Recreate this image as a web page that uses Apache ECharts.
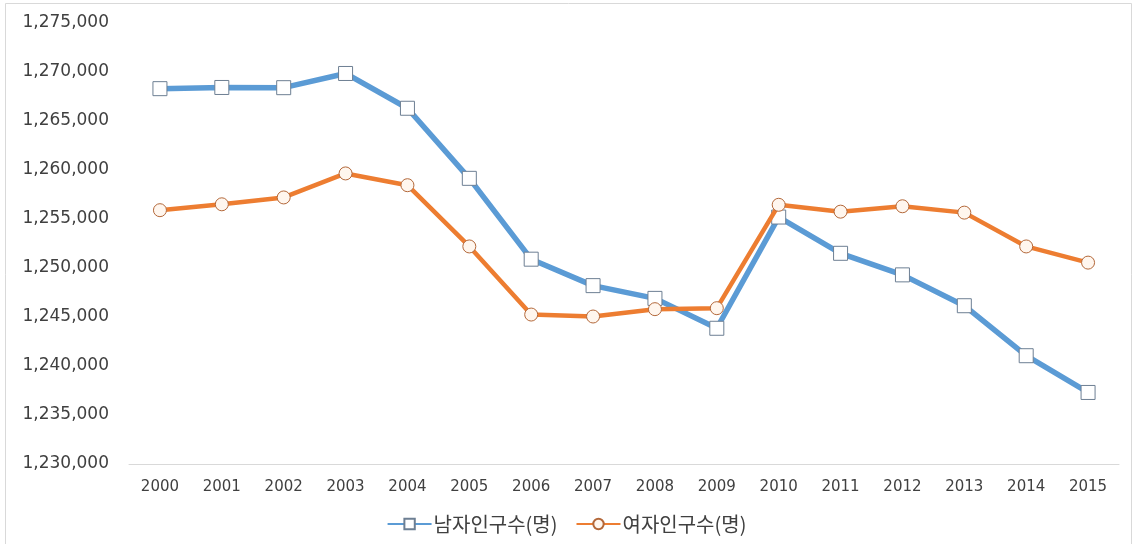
<!DOCTYPE html>
<html><head><meta charset="utf-8">
<script src="https://cdn.jsdelivr.net/npm/echarts@6/dist/echarts.min.js"></script>
<style>html,body{margin:0;padding:0;background:#fff}#c{width:1133px;height:544px}</style>
</head><body><div id="c"></div>
<script>
const years = ['2000','2001','2002','2003','2004','2005','2006','2007','2008','2009','2010','2011','2012','2013','2014','2015'];
const male = [1268300,1268420,1268400,1269850,1266300,1259150,1250900,1248200,1246900,1243850,1255200,1251500,1249300,1246150,1241050,1237300];
const female = [1255900,1256500,1257200,1259650,1258450,1252200,1245250,1245050,1245800,1245900,1256450,1255750,1256300,1255650,1252200,1250550];
const maleName = '남자인구수(명)';
const femaleName = '여자인구수(명)';
const yMin = 1230000, yMax = 1275000, yStep = 5000;

const chart = echarts.init(document.getElementById('c'), null, {renderer:'canvas'});
const font = '"Noto Sans CJK KR", "DejaVu Sans", sans-serif';
chart.setOption({
  animation:false,
  backgroundColor:'#ffffff',
  graphic:[{type:'rect', shape:{x:5.5,y:3.5,width:1126,height:545}, style:{fill:'none', stroke:'#d9d9d9', lineWidth:1}, silent:true}],
  grid:{left:129, right:14, top:23, bottom:80, containLabel:false},
  legend:{
    bottom:5, left:'center', itemWidth:44, itemHeight:13, itemGap:18,
    textStyle:{fontFamily:font, fontSize:20, color:'#404040', padding:[0,0,0,-3]},
    data:[maleName, femaleName]
  },
  xAxis:{
    type:'category', data:years, boundaryGap:true,
    axisLine:{lineStyle:{color:'#d9d9d9', width:1}},
    axisTick:{show:false},
    axisLabel:{fontFamily:'"DejaVu Sans", sans-serif', fontSize:15, color:'#404040', margin:16}
  },
  yAxis:{
    type:'value', min:yMin, max:yMax, interval:yStep,
    axisLine:{show:false}, axisTick:{show:false}, splitLine:{show:false},
    axisLabel:{fontFamily:'"DejaVu Sans", sans-serif', fontSize:17, color:'#404040', margin:20, align:'right',
      formatter:v=>v.toLocaleString('en-US')}
  },
  series:[
    {name:maleName, type:'line', data:male, symbol:'rect', symbolSize:14,
     lineStyle:{color:'#5b9bd5', width:5.5},
     itemStyle:{color:'#ffffff', borderColor:'#6d7f93', borderWidth:1},
     z:2},
    {name:femaleName, type:'line', data:female, symbol:'circle', symbolSize:13,
     lineStyle:{color:'#ed7d31', width:4.5},
     itemStyle:{color:'#fff6ee', borderColor:'#b3683a', borderWidth:1},
     z:3}
  ]
});
</script></body></html>
